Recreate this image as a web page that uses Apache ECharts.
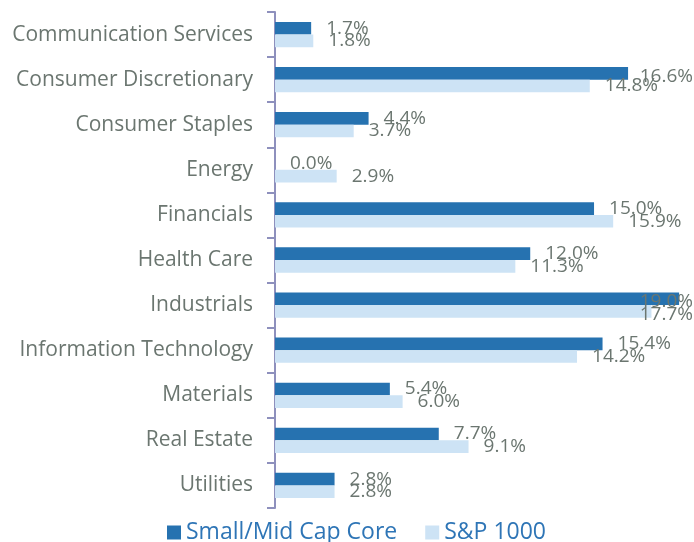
<!doctype html>
<html>

<head>
  <meta charset="utf-8">
  <script src="https://cdn.jsdelivr.net/npm/echarts@6/dist/echarts.min.js"></script>
</head>

<body>
  <style>
    html,
    body {
      width: 100%;
      height: 100%;
      margin: 0;
      background-color: #ffffff;
    }

    #main {
      width: 694px;
      height: 542px;
    }
  </style>
  <div id="main"></div>
  <script>
    var sectors = ['Communication Services', 'Consumer Discretionary', 'Consumer Staples', 'Energy',
      'Financials', 'Health Care', 'Industrials', 'Information Technology', 'Materials',
      'Real Estate', 'Utilities'];
    var smidCore = [1.7, 16.6, 4.4, 0.0, 15.0, 12.0, 19.0, 15.4, 5.4, 7.7, 2.8];
    var sp1000 = [1.8, 14.8, 3.7, 2.9, 15.9, 11.3, 17.7, 14.2, 6.0, 9.1, 2.8];
    var seriesNames = ['Small/Mid Cap Core', 'S&P 1000'];

    var textColor = '#6b7670';
    var chartWidth = 694;

    // keep labels inside the right edge like the original
    function clampLabel(params) {
      var r = params.labelRect;
      if (r.x + r.width > chartWidth - 1) {
        return {
          x: chartWidth - 1 - r.width,
          y: r.y + r.height / 2,
          align: 'left',
          verticalAlign: 'middle'
        };
      }
      return {};
    }

    function makeLabel() {
      return {
        show: true,
        position: 'right',
        distance: 15,
        offset: [0, 3],
        color: textColor,
        fontSize: 19,
        fontFamily: 'Open Sans',
        formatter: function (p) {
          return p.value.toFixed(1) + '%';
        }
      };
    }

    window.onload = function () {
      var chart = echarts.init(document.getElementById('main'));
      var option = {
        animation: false,
        grid: { left: 275, right: 0, top: 12, bottom: 34 },
        legend: {
          left: 162,
          bottom: -7,
          itemWidth: 14,
          itemHeight: 14,
          itemGap: 28,
          icon: 'rect',
          textStyle: { color: '#2e75b6', fontSize: 23, fontFamily: 'Open Sans' },
          data: seriesNames
        },
        xAxis: {
          type: 'value',
          min: 0,
          max: 19.7,
          show: false
        },
        yAxis: {
          type: 'category',
          inverse: true,
          data: sectors,
          axisLine: { lineStyle: { color: '#8e90bd', width: 2 } },
          axisTick: { show: true, length: 8, lineStyle: { color: '#8e90bd', width: 2 } },
          axisLabel: { color: textColor, fontSize: 21, fontFamily: 'Open Sans', margin: 22 },
          splitLine: { show: false }
        },
        series: [{
          type: 'bar',
          name: seriesNames[0],
          data: smidCore,
          barGap: '0%',
          barCategoryGap: '44%',
          itemStyle: { color: '#2672b0' },
          label: makeLabel(),
          labelLayout: clampLabel
        },
        {
          type: 'bar',
          name: seriesNames[1],
          data: sp1000,
          itemStyle: { color: '#cde3f5' },
          label: makeLabel(),
          labelLayout: clampLabel
        }]
      };
      chart.setOption(option);
    };
  </script>
</body>

</html>
